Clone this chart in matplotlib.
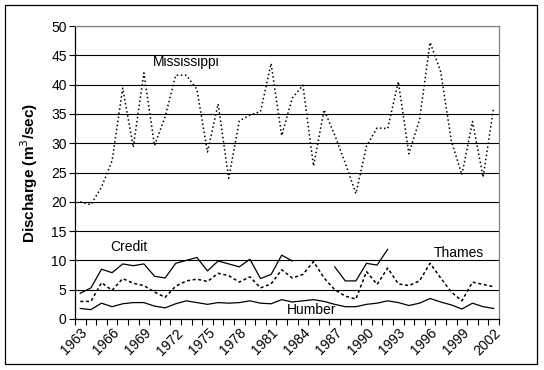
import numpy as np
import matplotlib
matplotlib.use("Agg")
import matplotlib.pyplot as plt
from matplotlib.patches import Rectangle
from matplotlib.transforms import ScaledTranslation

plt.rcParams['font.family'] = ['Liberation Sans', 'DejaVu Sans']

years = list(range(1963, 2003))
tick_years = list(range(1963, 2003, 3))
nan = np.nan

mississippi = [20.0, 19.5, 22.5, 27.0, 39.4, 29.3, 42.0, 29.6, 34.5, 41.6,
               41.6, 39.2, 28.5, 36.7, 24.0, 33.8, 34.8, 35.4, 43.6, 31.3,
               37.7, 39.9, 26.1, 35.7, 31.4, 26.6, 21.4, 29.5, 32.6, 32.5,
               40.5, 28.2, 34.0, 47.2, 42.2, 30.4, 24.6, 33.7, 24.2, 36.1]
credit = [4.4, 5.3, 8.5, 7.9, 9.4, 9.1, 9.4, 7.3, 7.0, 9.5,
          10.0, 10.5, 8.2, 9.9, 9.4, 8.9, 10.2, 6.9, 7.6, 10.9,
          9.9, nan, nan, nan, 8.9, 6.5, 6.5, 9.5, 9.2, 11.9,
          nan, nan, nan, nan, nan, nan, nan, nan, nan, nan]
thames = [3.0, 3.0, 6.2, 4.9, 6.9, 6.1, 5.7, 4.6, 3.7, 5.6,
          6.5, 6.8, 6.4, 7.8, 7.4, 6.3, 7.2, 5.3, 6.0, 8.4,
          7.0, 7.6, 9.8, 7.0, 5.0, 3.9, 3.4, 8.1, 5.9, 8.7,
          6.0, 5.7, 6.5, 9.5, 7.0, 4.6, 3.1, 6.3, 5.9, 5.5]
humber = [1.8, 1.6, 2.7, 2.1, 2.6, 2.8, 2.8, 2.2, 1.9, 2.6,
          3.1, 2.8, 2.5, 2.8, 2.7, 2.8, 3.1, 2.7, 2.6, 3.3,
          2.9, 3.1, 3.3, 3.0, 2.5, 2.1, 2.1, 2.5, 2.7, 3.1,
          2.8, 2.3, 2.7, 3.5, 2.9, 2.4, 1.7, 2.7, 2.1, 1.8]

W, H = 544, 370
fig = plt.figure(figsize=(W / 100, H / 100), dpi=100)
fig.patch.set_facecolor('white')

# outer chart frame
fig.add_artist(Rectangle((5 / W, 1 - 364 / H), 532 / W, 359 / H,
                         transform=fig.transFigure, fill=False,
                         edgecolor='black', linewidth=0.9))

ax = fig.add_axes([75 / W, 51 / H, 424 / W, 293 / H])
x = np.arange(len(years))

ax.set_xlim(-0.5, len(years) - 0.5)
ax.set_ylim(0, 50)
ax.set_yticks(np.arange(0, 51, 5))
ax.yaxis.grid(True, color='black', linewidth=0.8)
ax.set_axisbelow(True)

ax.plot(x, mississippi, color='black', linewidth=1.1, linestyle=(0, (1, 1.7)))
ax.plot(x, credit, color='black', linewidth=0.9, linestyle='-')
ax.plot(x, thames, color='black', linewidth=1.1, linestyle=(0, (2, 1.7)))
ax.plot(x, humber, color='black', linewidth=0.9, linestyle='-')

# x ticks between categories, labels at every third year
ax.set_xticks(np.arange(-0.5, len(years), 1.0))
ax.set_xticklabels([])
ax.set_xticks([years.index(y) for y in tick_years], minor=True)
ax.set_xticklabels([str(y) for y in tick_years], minor=True, rotation=45,
                   ha='right', va='top', rotation_mode='anchor', fontsize=10)
offset = ScaledTranslation(-5 / 100, -2 / 100, fig.dpi_scale_trans)
for lab in ax.xaxis.get_minorticklabels():
    lab.set_transform(lab.get_transform() + offset)
ax.tick_params(axis='x', which='major', direction='out', length=4, width=0.8)
ax.tick_params(axis='x', which='minor', length=0, pad=5)
ax.tick_params(axis='y', direction='out', length=4, width=0.8, labelsize=10, pad=2)

for side in ['top', 'right']:
    ax.spines[side].set_color('#808080')
    ax.spines[side].set_linewidth(0.9)
for side in ['left', 'bottom']:
    ax.spines[side].set_color('black')
    ax.spines[side].set_linewidth(0.9)

ax.set_ylabel('Discharge (m$^3$/sec)', fontsize=11, fontweight='bold', labelpad=8)

ax.text(10.0, 43.9, 'Mississippi', fontsize=10, ha='center', va='center')
ax.text(4.6, 12.3, 'Credit', fontsize=10, ha='center', va='center')
ax.text(35.7, 11.2, 'Thames', fontsize=10, ha='center', va='center')
ax.text(21.8, 1.5, 'Humber', fontsize=10, ha='center', va='center')

fig.savefig('out.png', dpi=100, facecolor='white')
